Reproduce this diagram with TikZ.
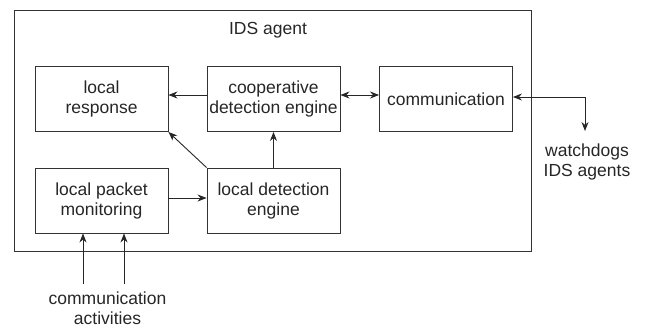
\documentclass[tikz,border=0pt]{standalone}
\usepackage{fontspec}
\setmainfont{Liberation Sans}
\usetikzlibrary{arrows.meta,calc}
\begin{document}
\begin{tikzpicture}[x=1pt,y=-1pt,
  line width=0.9pt,
  blk/.style={draw=black!80,line width=0.9pt,minimum width=133pt,minimum height=65pt,align=center,inner sep=0pt,
    font=\fontsize{17.5}{20}\selectfont,text=black!85},
  lbl/.style={align=center,inner sep=0pt,font=\fontsize{17.5}{20}\selectfont,text=black!85},
  arr/.style={draw=black!85,-{Stealth[length=9pt,width=7pt]}},
  darr/.style={draw=black!85,{Stealth[length=9pt,width=7pt]}-{Stealth[length=9pt,width=7pt]}}]
\useasboundingbox (0,0) rectangle (648,327);
\node[draw=black!80,line width=0.9pt,minimum width=517pt,minimum height=241pt,inner sep=0pt] (outer) at (272.5,130.5) {};
\node[lbl] (title) at (268,30) {IDS agent};
\node[blk] (lr) at (101.5,99) {local\\response};
\node[blk] (coop) at (273.5,99) {cooperative\\detection engine};
\node[blk] (comm) at (446,99) {communication};
\node[blk] (lpm) at (101.5,200.5) {local packet\\monitoring};
\node[blk] (lde) at (273.5,200.5) {local detection\\engine};
\node[lbl] (wd) at (587,162) {watchdogs\\IDS agents};
\node[lbl] (ca) at (107.5,308) {communication\\activities};
\coordinate (ext) at (585,131);
\coordinate (ca1) at (83,284);
\coordinate (ca2) at (124,284);
\draw[arr] (coop.west |- 0,95) -- (lr.east |- 0,95);
\draw[darr] (coop.east |- 0,95) -- (comm.west |- 0,95);
\draw[darr] (comm.east |- 0,97) -| (ext);
\draw[arr] (lde.north) -- (coop.south);
\draw[arr] (lde.north west) -- (lr.south east);
\draw[arr] (lpm.east |- 0,198) -- (lde.west |- 0,198);
\draw[arr] (ca1) -- (ca1 |- lpm.south);
\draw[arr] (ca2) -- (ca2 |- lpm.south);
\end{tikzpicture}
\end{document}
